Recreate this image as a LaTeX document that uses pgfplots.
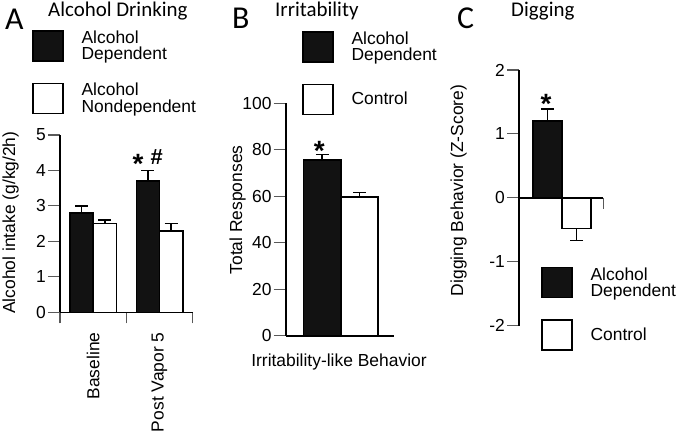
\documentclass[border=0pt]{standalone}
\usepackage{fontspec}
\setmainfont{Liberation Sans}
\newfontfamily\titlefont{Carlito}
\usepackage{pgfplots}
\pgfplotsset{compat=1.18}
\pgfplotsset{
  panel/.style={
    scale only axis, clip=false, enlargelimits=false,
    axis x line=bottom, axis y line=left,
    axis line style={-, line width=1.6bp, black},
    tick align=outside,
    major tick length=12bp, minor tick length=11bp,
    tick style={black!65, line width=1.1bp},
    tick label style={font=\fontsize{17.5}{17.5}\selectfont},
    yticklabel style={inner sep=2bp},
    /pgf/number format/assume math mode=true,
    ybar,
    legend cell align=left,
    legend style={draw=none, fill=none, inner sep=0pt, outer sep=0pt, anchor=north west,
      row sep=21bp, column sep=18bp,
      nodes={inner sep=0pt, align=left, font=\fontsize{17.5}{16.5}\selectfont}},
  },
  dep/.style={fill=black!93, draw=black, line width=1.6bp,
    legend image code/.code={\draw[fill=black!93, draw=black, line width=1.6bp] (0bp,-15bp) rectangle (30bp,15bp);},
    error bars/y dir=plus, error bars/y explicit,
    error bars/error bar style={line width=1.6bp, black},
    error bars/error mark options={rotate=90, line width=1.6bp, black, mark size=6.5bp}},
  ctl/.style={fill=white, draw=black, line width=1.6bp,
    legend image code/.code={\draw[fill=white, draw=black, line width=1.6bp] (0bp,-15bp) rectangle (30bp,15bp);},
    error bars/y dir=plus, error bars/y explicit,
    error bars/error bar style={line width=1.6bp, black},
    error bars/error mark options={rotate=90, line width=1.6bp, black, mark size=6.5bp}},
}
\tikzset{
  starnode/.style={font=\fontsize{28}{28}\selectfont\bfseries, inner sep=0pt},
  hashnode/.style={font=\fontsize{22}{22}\selectfont\bfseries, inner sep=0pt},
  lblfont/.style={font=\fontsize{17.5}{17.5}\selectfont},
}
\begin{document}
\begin{tikzpicture}
\path[use as bounding box] (0,0) rectangle (677bp,-431bp);
% titles
\node[anchor=base west, inner sep=0pt, font=\titlefont\fontsize{32}{32}\selectfont] at (5bp,-29.3bp) {A};
\node[anchor=base west, inner sep=0pt, font=\titlefont\fontsize{21}{21}\selectfont] at (48bp,-16.7bp) {Alcohol Drinking};
\node[anchor=base west, inner sep=0pt, font=\titlefont\fontsize{32}{32}\selectfont] at (232bp,-28.3bp) {B};
\node[anchor=base west, inner sep=0pt, font=\titlefont\fontsize{21}{21}\selectfont] at (275bp,-16.7bp) {Irritability};
\node[anchor=base west, inner sep=0pt, font=\titlefont\fontsize{32}{32}\selectfont] at (457bp,-28.5bp) {C};
\node[anchor=base west, inner sep=0pt, font=\titlefont\fontsize{21}{21}\selectfont] at (511bp,-16bp) {Digging};

% Panel A
\begin{axis}[panel, at={(60bp,-312.3bp)}, anchor=south west,
  width=132.7bp, height=177.3bp,
  xmin=0, xmax=2, ymin=0, ymax=5, ytick={0,1,2,3,4,5},
  xtick={0.5,1.5}, xticklabels={Baseline,Post Vapor 5},
  major x tick style={draw=none},
  minor xtick={0,1,2},
  x tick label style={rotate=90, anchor=east, inner sep=0pt, xshift=-8bp},
  bar width=0.35,
  every axis y label/.style={at={(axis description cs:-0.339,0.506)}, rotate=90, anchor=base, lblfont},
  ylabel={Alcohol intake (g/kg/2h)},
  legend style={at={(axis description cs:-0.211,1.592)}},
]
\addplot[dep, bar shift=-0.175] coordinates {(0.5,2.8) +- (0,0.2) (1.5,3.7) +- (0,0.3)};
\addlegendentry{Alcohol\\Dependent}
\addplot[ctl, bar shift=0.175] coordinates {(0.5,2.5) +- (0,0.1) (1.5,2.3) +- (0,0.2)};
\addlegendentry{Alcohol\\Nondependent}
\node[starnode] at (axis cs:1.176,4.18) {*};
\node[hashnode] at (axis cs:1.457,4.38) {\#};
\end{axis}

% Panel B
\begin{axis}[panel, at={(285.7bp,-335.7bp)}, anchor=south west,
  width=108.3bp, height=232.4bp,
  xmin=0, xmax=1, ymin=0, ymax=100, ytick={0,20,40,60,80,100},
  xtick=\empty, minor xtick={0,1},
  bar width=0.345,
  every axis y label/.style={at={(axis description cs:-0.4035,0.541)}, rotate=90, anchor=base, lblfont},
  ylabel={Total Responses},
  every axis x label/.style={at={(axis description cs:0.492,-0.1325)}, anchor=base, lblfont},
  xlabel={Irritability-like Behavior},
  legend style={at={(axis description cs:0.150,1.311)}},
]
\addplot[dep, bar shift=-0.1725] coordinates {(0.51,75.6) +- (0,2.4)};
\addlegendentry{Alcohol\\Dependent}
\addplot[ctl, bar shift=0.1725] coordinates {(0.51,59.6) +- (0,2.1)};
\addlegendentry{Control}
\node[starnode] at (axis cs:0.310,79.5) {*};
\end{axis}

% Panel C
\begin{axis}[panel, at={(519bp,-325.7bp)}, anchor=south west,
  width=84.3bp, height=255.7bp,
  axis x line=middle, hide obscured y ticks=false,
  every inner x axis line/.append style={-},
  xmin=0, xmax=1, ymin=-2, ymax=2, ytick={-2,-1,0,1,2},
  xtick=\empty,
  bar width=0.345,
  every axis y label/.style={at={(axis description cs:-0.664,0.529)}, rotate=90, anchor=base, lblfont},
  ylabel={Digging Behavior (Z-Score)},
  legend style={at={(axis description cs:0.261,0.230)}},
]
\addplot[dep, bar shift=-0.1725] coordinates {(0.51,1.2) +- (0,0.19)};
\addlegendentry{Alcohol\\Dependent}
\addplot[ctl, bar shift=0.1725, error bars/y dir=minus] coordinates {(0.51,-0.48) +- (0,0.19)};
\addlegendentry{Control}
\draw[black!65, line width=1.1bp] (axis cs:1,0) -- ([yshift=-11bp]axis cs:1,0);
\node[starnode] at (axis cs:0.320,1.473) {*};
\end{axis}
\end{tikzpicture}
\end{document}
